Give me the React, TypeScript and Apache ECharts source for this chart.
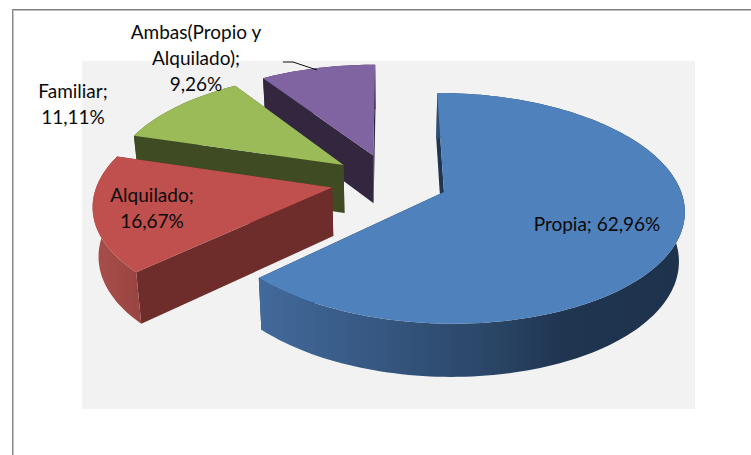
import React, { useEffect, useRef } from "react";
import * as echarts from "echarts";

const categories = ["Propia", "Alquilado", "Familiar", "Ambas(Propio y Alquilado)"];
const values = [62.96, 16.67, 11.11, 9.26];
const labelLines = [
  ["Propia; 62,96%"],
  ["Alquilado;", "16,67%"],
  ["Familiar;", "11,11%"],
  ["Ambas(Propio y", "Alquilado);", "9,26%"],
];

const topColors = ["#4f81bd", "#c0504d", "#9bbb59", "#8064a2"];
const wallColors = ["#1f3550", "#6e2d2b", "#3f4b22", "#32273f"];
const labelAnchors = [
  [597, 223],
  [152, 194],
  [73, 90],
  [196, 31],
];

const CX = 389.5, CY = 181, RX = 234, RY = 110, K = 0.139, EXPLODE = 0.25;
const START_DEG = 0;
const FONT = "Lato";

type P = [number, number];

function project(X: number, Y: number): P {
  const s = 1 / (1 - K * Y);
  return [CX + RX * X * s, CY + RY * Y * s];
}
function lower(p: P): P {
  return [CX + (p[0] - CX) * 0.98, p[1] + 48.5 + 0.033 * (p[1] - CY)];
}

function sliceAngles(index: number) {
  const total = values.reduce((a, b) => a + b, 0);
  const before = values.slice(0, index).reduce((a, b) => a + b, 0);
  const a0 = START_DEG + (before / total) * 360;
  const a1 = a0 + (values[index] / total) * 360;
  return [a0, a1];
}

function renderSlice(params: any) {
  const i = params.dataIndex;
  const [a0, a1] = sliceAngles(i);
  const mid = (((a0 + a1) / 2) * Math.PI) / 180;
  const ox = EXPLODE * Math.sin(mid);
  const oy = -EXPLODE * Math.cos(mid);
  const apex = project(ox, oy);
  const arc: P[] = [];
  const n = Math.max(16, Math.round((a1 - a0) / 1.5));
  for (let k = 0; k <= n; k++) {
    const t = ((a0 + ((a1 - a0) * k) / n) * Math.PI) / 180;
    arc.push(project(ox + Math.sin(t), oy - Math.cos(t)));
  }
  const lowArc = arc.map(lower);
  const lowApex = lower(apex);
  const first = arc[0], last = arc[n];
  const wallFill = wallColors[i];
  let arcFill: any = wallFill;
  if (i === 0) {
    arcFill = new echarts.graphic.LinearGradient(
      257, 0, 686, 0,
      [
        { offset: 0, color: "#426a9c" },
        { offset: 0.3, color: "#35567f" },
        { offset: 0.55, color: "#2a4566" },
        { offset: 0.72, color: "#1f3550" },
        { offset: 1, color: "#1e324c" },
      ],
      true
    );
  } else if (i === 1) {
    arcFill = new echarts.graphic.LinearGradient(
      92, 0, 139, 0,
      [
        { offset: 0, color: "#a94f4b" },
        { offset: 1, color: "#994542" },
      ],
      true
    );
  }
  const base = (3 - i) * 10;
  const poly = (points: P[], fill: any, z2: number) => ({
    type: "polygon",
    z2: base + z2,
    shape: { points },
    style: { fill, stroke: null },
    silent: true,
  });
  const wallA = poly([apex, first, lower(first), lowApex], wallFill, 1);
  const wallB = poly([apex, last, lower(last), lowApex], wallFill, 1);
  const outer = poly([...arc, ...lowArc.slice().reverse()], arcFill, 2);
  const top = poly([apex, ...arc], topColors[i], 3);
  const [lx, ly] = labelAnchors[i];
  const lineH = 26;
  const texts = labelLines[i].map((line, j) => ({
    type: "text",
    z2: 100,
    style: {
      x: lx,
      y: ly + j * lineH,
      text: line,
      fill: "#0a0a0a",
      font: `19px ${FONT}`,
      align: "center",
      verticalAlign: "middle",
    },
    silent: true,
  }));
  return { type: "group", children: [wallA, wallB, outer, top, ...texts] };
}

export default function App() {
  const ref = useRef<HTMLDivElement>(null);
  useEffect(() => {
    const chart = echarts.init(ref.current!, null, { renderer: "svg" });
    chart.setOption({
      animation: false,
      backgroundColor: "#ffffff",
      graphic: [
        { type: "line", z: -3, shape: { x1: 12, y1: 9.5, x2: 751, y2: 9.5 }, style: { stroke: "#7f7f7f", lineWidth: 1 } },
        { type: "line", z: -3, shape: { x1: 13, y1: 10.5, x2: 751, y2: 10.5 }, style: { stroke: "#bcbcbc", lineWidth: 1 } },
        { type: "line", z: -3, shape: { x1: 12.5, y1: 9, x2: 12.5, y2: 455 }, style: { stroke: "#8a8a8a", lineWidth: 1 } },
        { type: "line", z: -3, shape: { x1: 13.5, y1: 10, x2: 13.5, y2: 455 }, style: { stroke: "#c4c4c4", lineWidth: 1 } },
        { type: "rect", z: -1, shape: { x: 82, y: 61, width: 613, height: 348 }, style: { fill: "#f2f2f2" } },
        { type: "polyline", z: 20, shape: { points: [[283, 62], [293, 62], [317, 70]] }, style: { stroke: "#111111", lineWidth: 1, fill: null } },
      ],
      series: [
        {
          type: "custom",
          coordinateSystem: "none",
          clip: false,
          renderItem: renderSlice,
          data: categories.map((name, i) => ({ name, value: values[i] })),
        },
      ],
    });
    return () => chart.dispose();
  }, []);
  return <div ref={ref} style={{ position: "absolute", left: 0, top: 0, width: 751, height: 455 }} />;
}
